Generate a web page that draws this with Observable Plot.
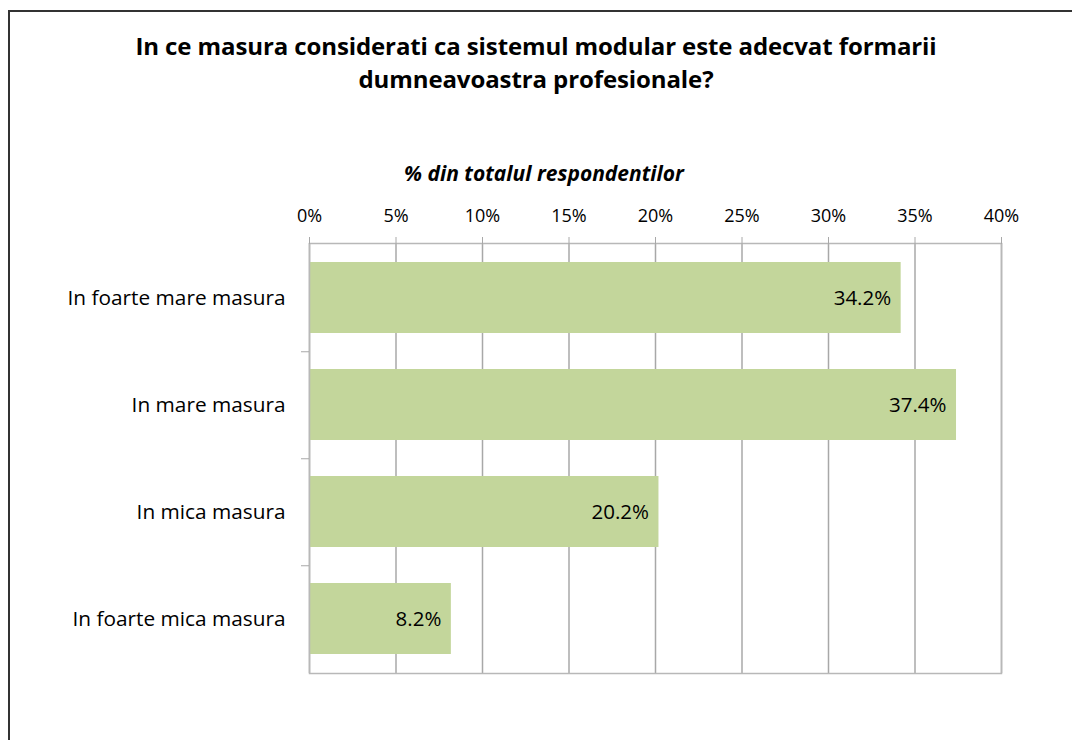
<!DOCTYPE html>
<html>
<head>
<meta charset="utf-8">
<script src="https://cdn.jsdelivr.net/npm/d3@7"></script>
<script src="https://cdn.jsdelivr.net/npm/@observablehq/plot@0.6"></script>
<style>
  html, body { margin: 0; padding: 0; background: #fff; }
  body { width: 1072px; height: 740px; position: relative; overflow: hidden; font-family: "Open Sans", Lato, sans-serif; color: #000; }
  #frame { position: absolute; left: 8px; top: 10px; width: 1200px; height: 900px; border-left: 2px solid #333; border-top: 2px solid #333; }
  #title { position: absolute; left: 0; width: 1072px; top: 29px; text-align: center; font-weight: bold; font-size: 24px; line-height: 33px; letter-spacing: -0.1px; }
  #subtitle { position: absolute; left: 294px; width: 500px; top: 159px; text-align: center; font-weight: bold; font-style: italic; font-size: 21px; }
  #chart { position: absolute; left: 0; top: 150px; }
</style>
</head>
<body>
<div id="frame"></div>
<div id="title">In ce masura considerati ca sistemul modular este adecvat formarii<br>dumneavoastra profesionale?</div>
<div id="subtitle">% din totalul respondentilor</div>
<div id="chart"></div>
<script>
const categories = ["In foarte mare masura", "In mare masura", "In mica masura", "In foarte mica masura"];
const values = [34.2, 37.4, 20.2, 8.2];
const xTicks = [0, 5, 10, 15, 20, 25, 30, 35, 40];

const data = categories.map((c, i) => ({category: c, value: values[i]}));

const height = 560, marginTop = 93, marginBottom = 37;
const step = (height - marginTop - marginBottom) / categories.length;

const chart = Plot.plot({
  width: 1072,
  height,
  marginTop,
  marginBottom,
  marginLeft: 309,
  marginRight: 71,
  style: {fontFamily: "'Open Sans', Lato, sans-serif", fontSize: "17px", color: "#000", background: "transparent"},
  x: {domain: [0, 40], ticks: xTicks, axis: null},
  y: {domain: categories, paddingInner: 0.34, paddingOuter: 0.17, axis: null},
  marks: [
    Plot.gridX(xTicks, {stroke: "#a8a8a8", strokeOpacity: 1, strokeWidth: 1.5}),
    Plot.barX(data, {y: "category", x: "value", fill: "#c3d69b"}),
    Plot.frame({stroke: "#b8b8b8", strokeWidth: 1.5}),
    Plot.axisX(xTicks, {anchor: "top", tickSize: 7, tickPadding: 15, tickFormat: d => d + "%", stroke: "#a8a8a8", fontSize: 18, label: null}),
    Plot.axisY({anchor: "left", tickSize: 0, tickPadding: 24, fontSize: 20.8, label: null}),
    Plot.axisY(categories.slice(0, 3), {anchor: "left", tickSize: 8, tickFormat: () => "", dy: step / 2, stroke: "#a8a8a8", label: null}),
    Plot.text(data, {y: "category", x: "value", text: d => d.value.toFixed(1) + "%", textAnchor: "end", dx: -10, fontSize: 20.5, fill: "#000"})
  ]
});
document.getElementById("chart").appendChild(chart);
</script>
</body>
</html>
